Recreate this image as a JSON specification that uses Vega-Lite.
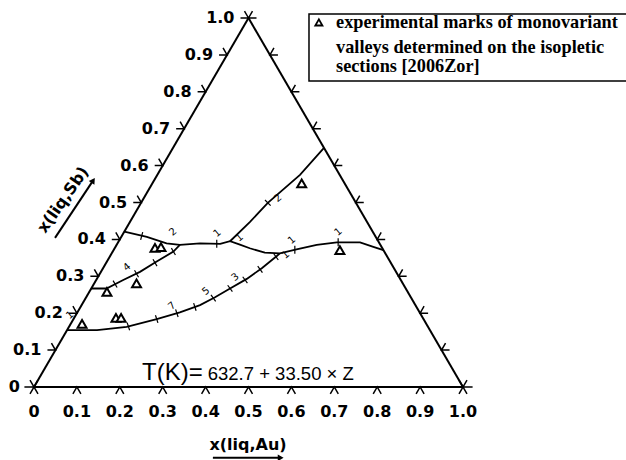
{
  "$schema": "https://vega.github.io/schema/vega-lite/v6.json",
  "width": 429,
  "height": 369,
  "autosize": {"type": "none"},
  "padding": {"left": 34, "top": 18, "right": 163, "bottom": 73},
  "background": "white",
  "config": {"view": {"stroke": null}},
  "datasets": {
    "edges": [
      {"cx1": 0, "sb1": 0, "cx2": 0.5, "sb2": 1},
      {"cx1": 0.5, "sb1": 1, "cx2": 1, "sb2": 0},
      {"cx1": 0, "sb1": 0, "cx2": 1, "sb2": 0},
      {"cx1": 0.049, "sb1": 0.404, "cx2": 0.138, "sb2": 0.56},
      {"cx1": 0.417, "sb1": -0.192, "cx2": 0.575, "sb2": -0.192}
    ],
    "legendbox": [{"cx1": 0.641, "sb1": 1.011, "cx2": 1.4, "sb2": 0.829}],
    "curves": [
      {"c": "A", "i": 1, "cx": 0.2105, "sb": 0.421},
      {"c": "A", "i": 2, "cx": 0.263, "sb": 0.407},
      {"c": "A", "i": 3, "cx": 0.309, "sb": 0.389},
      {"c": "A", "i": 4, "cx": 0.34, "sb": 0.385},
      {"c": "A", "i": 5, "cx": 0.387, "sb": 0.389},
      {"c": "A", "i": 6, "cx": 0.434, "sb": 0.388},
      {"c": "A", "i": 7, "cx": 0.457, "sb": 0.395},
      {"c": "A", "i": 8, "cx": 0.48, "sb": 0.386},
      {"c": "A", "i": 9, "cx": 0.503, "sb": 0.376},
      {"c": "A", "i": 10, "cx": 0.538, "sb": 0.364},
      {"c": "A", "i": 11, "cx": 0.573, "sb": 0.362},
      {"c": "A", "i": 12, "cx": 0.612, "sb": 0.373},
      {"c": "A", "i": 13, "cx": 0.659, "sb": 0.385},
      {"c": "A", "i": 14, "cx": 0.706, "sb": 0.392},
      {"c": "A", "i": 15, "cx": 0.76, "sb": 0.392},
      {"c": "A", "i": 16, "cx": 0.791, "sb": 0.38},
      {"c": "A", "i": 17, "cx": 0.8145, "sb": 0.371},
      {"c": "B", "i": 1, "cx": 0.1335, "sb": 0.267},
      {"c": "B", "i": 2, "cx": 0.169, "sb": 0.267},
      {"c": "B", "i": 3, "cx": 0.208, "sb": 0.29},
      {"c": "B", "i": 4, "cx": 0.247, "sb": 0.312},
      {"c": "B", "i": 5, "cx": 0.286, "sb": 0.34},
      {"c": "B", "i": 6, "cx": 0.325, "sb": 0.367},
      {"c": "B", "i": 7, "cx": 0.34, "sb": 0.385},
      {"c": "C", "i": 1, "cx": 0.457, "sb": 0.395},
      {"c": "C", "i": 2, "cx": 0.503, "sb": 0.447},
      {"c": "C", "i": 3, "cx": 0.545, "sb": 0.499},
      {"c": "C", "i": 4, "cx": 0.62, "sb": 0.575},
      {"c": "C", "i": 5, "cx": 0.676, "sb": 0.648},
      {"c": "D", "i": 1, "cx": 0.077, "sb": 0.154},
      {"c": "D", "i": 2, "cx": 0.147, "sb": 0.154},
      {"c": "D", "i": 3, "cx": 0.216, "sb": 0.163},
      {"c": "D", "i": 4, "cx": 0.286, "sb": 0.184},
      {"c": "D", "i": 5, "cx": 0.34, "sb": 0.202},
      {"c": "D", "i": 6, "cx": 0.387, "sb": 0.222},
      {"c": "D", "i": 7, "cx": 0.422, "sb": 0.243},
      {"c": "D", "i": 8, "cx": 0.457, "sb": 0.267},
      {"c": "D", "i": 9, "cx": 0.496, "sb": 0.293},
      {"c": "D", "i": 10, "cx": 0.531, "sb": 0.322},
      {"c": "D", "i": 11, "cx": 0.566, "sb": 0.355},
      {"c": "D", "i": 12, "cx": 0.573, "sb": 0.362}
    ],
    "exp": [
      {"cx": 0.112, "sb": 0.171},
      {"cx": 0.191, "sb": 0.187},
      {"cx": 0.203, "sb": 0.187},
      {"cx": 0.17, "sb": 0.258},
      {"cx": 0.239, "sb": 0.281},
      {"cx": 0.282, "sb": 0.377},
      {"cx": 0.296, "sb": 0.379},
      {"cx": 0.624, "sb": 0.552},
      {"cx": 0.713, "sb": 0.371}
    ],
    "cticks": [
      {"g": "a", "cx": 0.251, "sb": 0.409},
      {"g": "h", "cx": 0.426, "sb": 0.388},
      {"g": "h", "cx": 0.608, "sb": 0.372},
      {"g": "h", "cx": 0.709, "sb": 0.392},
      {"g": "b", "cx": 0.189, "sb": 0.279},
      {"g": "b", "cx": 0.239, "sb": 0.307},
      {"g": "b", "cx": 0.282, "sb": 0.337},
      {"g": "b", "cx": 0.325, "sb": 0.367},
      {"g": "d1", "cx": 0.22, "sb": 0.164},
      {"g": "d1", "cx": 0.286, "sb": 0.184},
      {"g": "d1", "cx": 0.333, "sb": 0.2},
      {"g": "d1", "cx": 0.375, "sb": 0.217},
      {"g": "d2", "cx": 0.418, "sb": 0.241},
      {"g": "d2", "cx": 0.457, "sb": 0.267},
      {"g": "d2", "cx": 0.492, "sb": 0.29},
      {"g": "d2", "cx": 0.527, "sb": 0.319},
      {"g": "d2", "cx": 0.564, "sb": 0.353},
      {"g": "c", "cx": 0.545, "sb": 0.499}
    ],
    "clabels": [
      {"t": "2", "cx": 0.324, "sb": 0.42},
      {"t": "1", "cx": 0.427, "sb": 0.417},
      {"t": "1", "cx": 0.479, "sb": 0.405},
      {"t": "1", "cx": 0.601, "sb": 0.398},
      {"t": "1", "cx": 0.587, "sb": 0.358},
      {"t": "3", "cx": 0.469, "sb": 0.298},
      {"t": "5", "cx": 0.401, "sb": 0.26},
      {"t": "7", "cx": 0.322, "sb": 0.22},
      {"t": "4", "cx": 0.217, "sb": 0.325},
      {"t": "2", "cx": 0.569, "sb": 0.512},
      {"t": "1", "cx": 0.709, "sb": 0.42},
      {"t": "1", "cx": 0.084, "sb": 0.195}
    ],
    "leftlabels": [
      {"t": "0", "cx": 0, "sb": 0},
      {"t": "0.1", "cx": 0.05, "sb": 0.1},
      {"t": "0.2", "cx": 0.1, "sb": 0.2},
      {"t": "0.3", "cx": 0.15, "sb": 0.3},
      {"t": "0.4", "cx": 0.2, "sb": 0.4},
      {"t": "0.5", "cx": 0.25, "sb": 0.5},
      {"t": "0.6", "cx": 0.3, "sb": 0.6},
      {"t": "0.7", "cx": 0.35, "sb": 0.7},
      {"t": "0.8", "cx": 0.4, "sb": 0.8},
      {"t": "0.9", "cx": 0.45, "sb": 0.9},
      {"t": "1.0", "cx": 0.5, "sb": 1.0}
    ],
    "bottomlabels": [
      {"t": "0", "cx": 0, "sb": 0},
      {"t": "0.1", "cx": 0.1, "sb": 0},
      {"t": "0.2", "cx": 0.2, "sb": 0},
      {"t": "0.3", "cx": 0.3, "sb": 0},
      {"t": "0.4", "cx": 0.4, "sb": 0},
      {"t": "0.5", "cx": 0.5, "sb": 0},
      {"t": "0.6", "cx": 0.6, "sb": 0},
      {"t": "0.7", "cx": 0.7, "sb": 0},
      {"t": "0.8", "cx": 0.8, "sb": 0},
      {"t": "0.9", "cx": 0.9, "sb": 0},
      {"t": "1.0", "cx": 1.0, "sb": 0}
    ],
    "leftticks": [
      {"cx": 0.05, "sb": 0.1}, {"cx": 0.1, "sb": 0.2}, {"cx": 0.15, "sb": 0.3},
      {"cx": 0.2, "sb": 0.4}, {"cx": 0.25, "sb": 0.5}, {"cx": 0.3, "sb": 0.6},
      {"cx": 0.35, "sb": 0.7}, {"cx": 0.4, "sb": 0.8}, {"cx": 0.45, "sb": 0.9}
    ],
    "rightticks": [
      {"cx": 0.95, "sb": 0.1}, {"cx": 0.9, "sb": 0.2}, {"cx": 0.85, "sb": 0.3},
      {"cx": 0.8, "sb": 0.4}, {"cx": 0.75, "sb": 0.5}, {"cx": 0.7, "sb": 0.6},
      {"cx": 0.65, "sb": 0.7}, {"cx": 0.6, "sb": 0.8}, {"cx": 0.55, "sb": 0.9}
    ],
    "bottomticks": [
      {"cx": 0.1, "sb": 0}, {"cx": 0.2, "sb": 0}, {"cx": 0.3, "sb": 0},
      {"cx": 0.4, "sb": 0}, {"cx": 0.5, "sb": 0}, {"cx": 0.6, "sb": 0},
      {"cx": 0.7, "sb": 0}, {"cx": 0.8, "sb": 0}, {"cx": 0.9, "sb": 0}
    ],
    "corner_o": [{"cx": 0, "sb": 0}],
    "corner_t": [{"cx": 0.5, "sb": 1}],
    "corner_r": [{"cx": 1, "sb": 0}],
    "arrowsb": [{"cx": 0.138, "sb": 0.56}],
    "arrowau": [{"cx": 0.575, "sb": -0.192}],
    "titlesb": [{"t": "x(liq,Sb)", "cx": 0.068, "sb": 0.507}],
    "titleau": [{"t": "x(liq,Au)", "cx": 0.499, "sb": -0.157}],
    "eq1": [{"t": "T(K)=", "cx": 0.252, "sb": 0.02}],
    "eq2": [{"t": "632.7 + 33.50 × Z", "cx": 0.405, "sb": 0.02}],
    "legsym": [{"cx": 0.664, "sb": 0.988}],
    "legtext": [
      {"t": "experimental marks of monovariant", "cx": 0.704, "sb": 0.972},
      {"t": "valleys determined on the isopletic", "cx": 0.704, "sb": 0.904},
      {"t": "sections [2006Zor]", "cx": 0.704, "sb": 0.853}
    ]
  },
  "layer": [
    {
      "data": {"name": "legendbox"},
      "mark": {"type": "rect", "fill": null, "stroke": "black", "strokeWidth": 1.5},
      "encoding": {
        "x": {"field": "cx1", "type": "quantitative", "scale": {"domain": [0, 1], "nice": false, "zero": false}, "axis": null},
        "x2": {"field": "cx2"},
        "y": {"field": "sb1", "type": "quantitative", "scale": {"domain": [0, 1], "nice": false, "zero": false}, "axis": null},
        "y2": {"field": "sb2"}
      }
    },
    {
      "data": {"name": "edges"},
      "mark": {"type": "rule", "color": "black", "strokeWidth": 2},
      "encoding": {
        "x": {"field": "cx1", "type": "quantitative"},
        "x2": {"field": "cx2"},
        "y": {"field": "sb1", "type": "quantitative"},
        "y2": {"field": "sb2"}
      }
    },
    {
      "data": {"name": "curves"},
      "mark": {"type": "line", "color": "black", "strokeWidth": 1.8},
      "encoding": {
        "x": {"field": "cx", "type": "quantitative"},
        "y": {"field": "sb", "type": "quantitative"},
        "detail": {"field": "c"},
        "order": {"field": "i", "type": "quantitative"}
      }
    },
    {
      "data": {"name": "leftticks"},
      "mark": {"type": "point", "shape": "M-1,0L0,0L-0.5,-0.87", "size": 256, "filled": false, "stroke": "black", "strokeWidth": 1.5, "opacity": 1},
      "encoding": {"x": {"field": "cx", "type": "quantitative"}, "y": {"field": "sb", "type": "quantitative"}}
    },
    {
      "data": {"name": "rightticks"},
      "mark": {"type": "point", "shape": "M1,0L0,0L0.5,-0.87", "size": 256, "filled": false, "stroke": "black", "strokeWidth": 1.5, "opacity": 1},
      "encoding": {"x": {"field": "cx", "type": "quantitative"}, "y": {"field": "sb", "type": "quantitative"}}
    },
    {
      "data": {"name": "bottomticks"},
      "mark": {"type": "point", "shape": "M-0.5,0.87L0,0L0.5,0.87", "size": 256, "filled": false, "stroke": "black", "strokeWidth": 1.5, "opacity": 1},
      "encoding": {"x": {"field": "cx", "type": "quantitative"}, "y": {"field": "sb", "type": "quantitative"}}
    },
    {
      "data": {"name": "corner_o"},
      "mark": {"type": "point", "shape": "M-1.2,0L0,0M-0.5,0.87L0.5,-0.87M-0.5,-0.87L0.5,0.87", "size": 256, "filled": false, "stroke": "black", "strokeWidth": 1.5, "opacity": 1},
      "encoding": {"x": {"field": "cx", "type": "quantitative"}, "y": {"field": "sb", "type": "quantitative"}}
    },
    {
      "data": {"name": "corner_r"},
      "mark": {"type": "point", "shape": "M1.2,0L0,0M0.5,0.87L-0.5,-0.87M0.5,-0.87L-0.5,0.87", "size": 256, "filled": false, "stroke": "black", "strokeWidth": 1.5, "opacity": 1},
      "encoding": {"x": {"field": "cx", "type": "quantitative"}, "y": {"field": "sb", "type": "quantitative"}}
    },
    {
      "data": {"name": "corner_t"},
      "mark": {"type": "point", "shape": "M-1,0L1,0M0,0L-0.5,-0.87M0,0L0.5,-0.87", "size": 256, "filled": false, "stroke": "black", "strokeWidth": 1.5, "opacity": 1},
      "encoding": {"x": {"field": "cx", "type": "quantitative"}, "y": {"field": "sb", "type": "quantitative"}}
    },
    {
      "data": {"name": "cticks"},
      "transform": [{"filter": "datum.g == 'a'"}],
      "mark": {"type": "point", "shape": "M0,-1L0,1", "size": 64, "filled": false, "stroke": "black", "strokeWidth": 1.2, "opacity": 1, "angle": 15},
      "encoding": {"x": {"field": "cx", "type": "quantitative"}, "y": {"field": "sb", "type": "quantitative"}}
    },
    {
      "data": {"name": "cticks"},
      "transform": [{"filter": "datum.g == 'h'"}],
      "mark": {"type": "point", "shape": "M0,-1L0,1", "size": 64, "filled": false, "stroke": "black", "strokeWidth": 1.2, "opacity": 1, "angle": 0},
      "encoding": {"x": {"field": "cx", "type": "quantitative"}, "y": {"field": "sb", "type": "quantitative"}}
    },
    {
      "data": {"name": "cticks"},
      "transform": [{"filter": "datum.g == 'b'"}],
      "mark": {"type": "point", "shape": "M0,-1L0,1", "size": 64, "filled": false, "stroke": "black", "strokeWidth": 1.2, "opacity": 1, "angle": -30},
      "encoding": {"x": {"field": "cx", "type": "quantitative"}, "y": {"field": "sb", "type": "quantitative"}}
    },
    {
      "data": {"name": "cticks"},
      "transform": [{"filter": "datum.g == 'd1'"}],
      "mark": {"type": "point", "shape": "M0,-1L0,1", "size": 64, "filled": false, "stroke": "black", "strokeWidth": 1.2, "opacity": 1, "angle": -18},
      "encoding": {"x": {"field": "cx", "type": "quantitative"}, "y": {"field": "sb", "type": "quantitative"}}
    },
    {
      "data": {"name": "cticks"},
      "transform": [{"filter": "datum.g == 'd2'"}],
      "mark": {"type": "point", "shape": "M0,-1L0,1", "size": 64, "filled": false, "stroke": "black", "strokeWidth": 1.2, "opacity": 1, "angle": -36},
      "encoding": {"x": {"field": "cx", "type": "quantitative"}, "y": {"field": "sb", "type": "quantitative"}}
    },
    {
      "data": {"name": "cticks"},
      "transform": [{"filter": "datum.g == 'c'"}],
      "mark": {"type": "point", "shape": "M0,-1L0,1", "size": 64, "filled": false, "stroke": "black", "strokeWidth": 1.2, "opacity": 1, "angle": -45},
      "encoding": {"x": {"field": "cx", "type": "quantitative"}, "y": {"field": "sb", "type": "quantitative"}}
    },
    {
      "data": {"name": "exp"},
      "mark": {"type": "point", "shape": "triangle-up", "size": 80, "filled": true, "fill": "white", "stroke": "black", "strokeWidth": 2, "opacity": 1},
      "encoding": {"x": {"field": "cx", "type": "quantitative"}, "y": {"field": "sb", "type": "quantitative"}}
    },
    {
      "data": {"name": "clabels"},
      "mark": {"type": "text", "font": "DejaVu Sans", "fontSize": 10, "angle": -40, "align": "center", "baseline": "middle", "color": "black"},
      "encoding": {"x": {"field": "cx", "type": "quantitative"}, "y": {"field": "sb", "type": "quantitative"}, "text": {"field": "t"}}
    },
    {
      "data": {"name": "leftlabels"},
      "mark": {"type": "text", "font": "DejaVu Sans", "fontWeight": "bold", "fontSize": 16, "align": "right", "baseline": "middle", "dx": -14, "color": "black"},
      "encoding": {"x": {"field": "cx", "type": "quantitative"}, "y": {"field": "sb", "type": "quantitative"}, "text": {"field": "t"}}
    },
    {
      "data": {"name": "bottomlabels"},
      "mark": {"type": "text", "font": "DejaVu Sans", "fontWeight": "bold", "fontSize": 16, "align": "center", "baseline": "middle", "dy": 25, "color": "black"},
      "encoding": {"x": {"field": "cx", "type": "quantitative"}, "y": {"field": "sb", "type": "quantitative"}, "text": {"field": "t"}}
    },
    {
      "data": {"name": "titlesb"},
      "mark": {"type": "text", "font": "DejaVu Sans", "fontWeight": "bold", "fontSize": 16, "align": "center", "baseline": "middle", "angle": -55, "color": "black"},
      "encoding": {"x": {"field": "cx", "type": "quantitative"}, "y": {"field": "sb", "type": "quantitative"}, "text": {"field": "t"}}
    },
    {
      "data": {"name": "titleau"},
      "mark": {"type": "text", "font": "DejaVu Sans", "fontWeight": "bold", "fontSize": 16, "align": "center", "baseline": "middle", "color": "black"},
      "encoding": {"x": {"field": "cx", "type": "quantitative"}, "y": {"field": "sb", "type": "quantitative"}, "text": {"field": "t"}}
    },
    {
      "data": {"name": "arrowsb"},
      "mark": {"type": "point", "shape": "triangle-up", "size": 45, "filled": true, "color": "black", "opacity": 1, "angle": 34},
      "encoding": {"x": {"field": "cx", "type": "quantitative"}, "y": {"field": "sb", "type": "quantitative"}}
    },
    {
      "data": {"name": "arrowau"},
      "mark": {"type": "point", "shape": "triangle-right", "size": 45, "filled": true, "color": "black", "opacity": 1},
      "encoding": {"x": {"field": "cx", "type": "quantitative"}, "y": {"field": "sb", "type": "quantitative"}}
    },
    {
      "data": {"name": "eq1"},
      "mark": {"type": "text", "font": "Liberation Sans", "fontSize": 24, "align": "left", "baseline": "alphabetic", "color": "black"},
      "encoding": {"x": {"field": "cx", "type": "quantitative"}, "y": {"field": "sb", "type": "quantitative"}, "text": {"field": "t"}}
    },
    {
      "data": {"name": "eq2"},
      "mark": {"type": "text", "font": "Liberation Sans", "fontSize": 18.5, "align": "left", "baseline": "alphabetic", "color": "black"},
      "encoding": {"x": {"field": "cx", "type": "quantitative"}, "y": {"field": "sb", "type": "quantitative"}, "text": {"field": "t"}}
    },
    {
      "data": {"name": "legsym"},
      "mark": {"type": "point", "shape": "triangle-up", "size": 50, "filled": true, "fill": "white", "stroke": "black", "strokeWidth": 1.8, "opacity": 1},
      "encoding": {"x": {"field": "cx", "type": "quantitative"}, "y": {"field": "sb", "type": "quantitative"}}
    },
    {
      "data": {"name": "legtext"},
      "mark": {"type": "text", "font": "Liberation Serif", "fontWeight": "bold", "fontSize": 18.3, "align": "left", "baseline": "alphabetic", "color": "black"},
      "encoding": {"x": {"field": "cx", "type": "quantitative"}, "y": {"field": "sb", "type": "quantitative"}, "text": {"field": "t"}}
    }
  ]
}
